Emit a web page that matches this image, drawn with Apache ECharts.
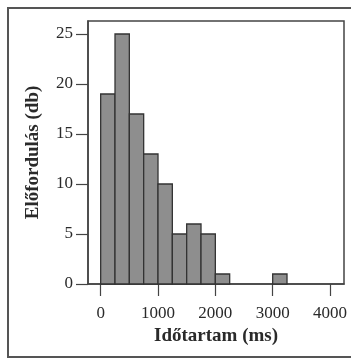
<!DOCTYPE html>
<html>
<head>
<meta charset="utf-8">
<script src="https://cdn.jsdelivr.net/npm/echarts@6/dist/echarts.min.js"></script>
<style>
  html, body { margin: 0; padding: 0; background: #fff; }
  #main { width: 351px; height: 360px; }
</style>
</head>
<body>
<div id="main"></div>
<script>
// histogram: bins of 250 ms, start of each bin and its count
var binWidth = 250;
var binStart = [0, 250, 500, 750, 1000, 1250, 1500, 1750, 2000, 3000];
var counts = [19, 25, 17, 13, 10, 5, 6, 5, 1, 1];
var xTicks = [0, 1000, 2000, 3000, 4000];
var yTicks = [0, 5, 10, 15, 20, 25];

var data = [];
for (var i = 0; i < binStart.length; i++) {
  data.push([binStart[i], binStart[i] + binWidth, counts[i]]);
}

var font = 'Liberation Serif';

var option = {
  animation: false,
  backgroundColor: '#fff',
  grid: {
    left: 88,
    top: 21,
    right: 7,
    bottom: 76,
    show: true,
    borderColor: '#444',
    borderWidth: 1.5
  },
  graphic: [{
    type: 'rect',
    shape: { x: 8, y: 8, width: 360, height: 349 },
    style: { fill: 'none', stroke: '#555', lineWidth: 2 }
  }],
  xAxis: {
    type: 'value',
    min: -221,
    max: 4244,
    name: 'Időtartam (ms)',
    nameLocation: 'middle',
    nameGap: 42,
    nameTextStyle: { fontFamily: font, fontSize: 19, fontWeight: 'bold', color: '#2a2a2a' },
    axisLine: { show: true, onZero: false, lineStyle: { color: '#444', width: 1.5 } },
    axisTick: { show: true, length: 12, customValues: xTicks, lineStyle: { color: '#444', width: 1.2 } },
    axisLabel: {
      customValues: xTicks, margin: 21, fontFamily: font, fontSize: 17, color: '#2a2a2a',
      formatter: function (v) { return String(v); }
    },
    splitLine: { show: false }
  },
  yAxis: {
    type: 'value',
    min: 0,
    max: 26.3,
    name: 'Előfordulás (db)',
    nameLocation: 'middle',
    nameGap: 45,
    nameRotate: 90,
    nameTextStyle: { fontFamily: font, fontSize: 19, fontWeight: 'bold', color: '#2a2a2a' },
    axisLine: { show: true, onZero: false, lineStyle: { color: '#444', width: 1.5 } },
    axisTick: { show: true, length: 12, customValues: yTicks, lineStyle: { color: '#444', width: 1.2 } },
    axisLabel: { customValues: yTicks, margin: 15, fontFamily: font, fontSize: 17, color: '#2a2a2a' },
    splitLine: { show: false }
  },
  series: [{
    type: 'custom',
    renderItem: function (params, api) {
      var p0 = api.coord([api.value(0), api.value(2)]);
      var p1 = api.coord([api.value(1), 0]);
      return {
        type: 'rect',
        shape: { x: p0[0], y: p0[1], width: p1[0] - p0[0], height: p1[1] - p0[1] },
        style: { fill: '#8e8e8e', stroke: '#333', lineWidth: 1.3 }
      };
    },
    encode: { x: [0, 1], y: 2 },
    data: data
  }]
};

var chart = echarts.init(document.getElementById('main'));
chart.setOption(option);
</script>
</body>
</html>
